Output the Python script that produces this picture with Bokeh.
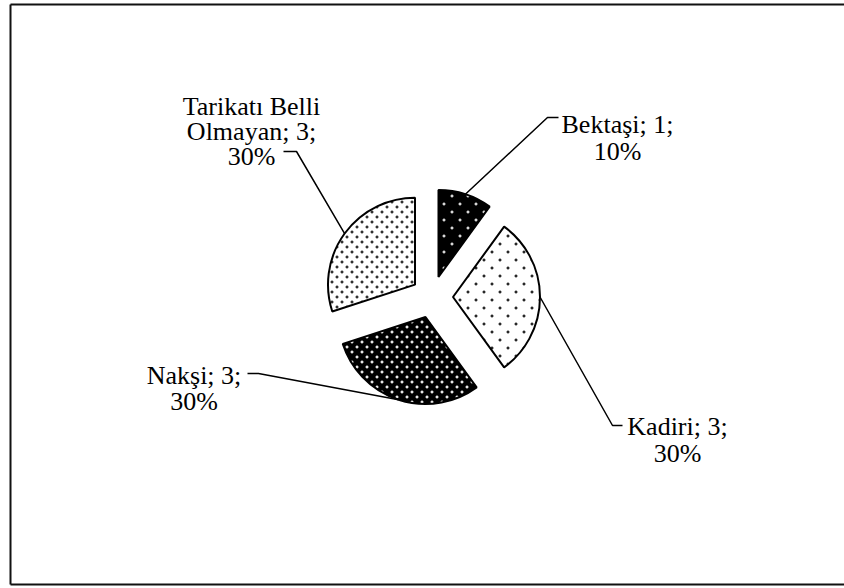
import base64
import struct
import zlib

import numpy as np
from bokeh.plotting import figure
from bokeh.models import Range1d, ColumnDataSource, ImageURLTexture
from bokeh.embed import file_html
from bokeh.resources import INLINE
from bokeh.core.properties import value

# ---- data ----
categories = ["Bektaşi", "Kadiri", "Nakşi", "Tarikatı Belli Olmayan"]
counts = [1, 3, 3, 3]
# how the name part of each label is wrapped
name_wraps = [["Bektaşi"], ["Kadiri"], ["Nakşi"], ["Tarikatı Belli", "Olmayan"]]

# ---- styles ----
fill_colors = ["black", "white", "black", "white"]
patterns = ["sparse_light", "sparse_dark", "dense_light", "dense_dark"]

W, H = 844, 588


def py(y):
    return H - y


def dot_tile(T, dots, rgb):
    """small transparent PNG tile with soft dots, returned as data URI"""
    alpha = [[0.0] * T for _ in range(T)]
    kern = {(0, 0): 1.0, (1, 0): 1.0, (0, 1): 1.0, (1, 1): 1.0,
            (-1, 0): 0.35, (-1, 1): 0.35, (2, 0): 0.35, (2, 1): 0.35,
            (0, -1): 0.35, (1, -1): 0.35, (0, 2): 0.35, (1, 2): 0.35}
    for (dx, dy) in dots:
        for (kx, ky), a in kern.items():
            x, y = (dx + kx) % T, (dy + ky) % T
            alpha[y][x] = max(alpha[y][x], a)
    raw = b""
    for row in alpha:
        raw += b"\x00" + b"".join(bytes([rgb[0], rgb[1], rgb[2], int(a * 255)]) for a in row)

    def chunk(tag, data):
        c = struct.pack(">I", len(data)) + tag + data
        return c + struct.pack(">I", zlib.crc32(tag + data) & 0xFFFFFFFF)

    png = b"\x89PNG\r\n\x1a\n"
    png += chunk(b"IHDR", struct.pack(">IIBBBBB", T, T, 8, 6, 0, 0, 0))
    png += chunk(b"IDAT", zlib.compress(raw, 9))
    png += chunk(b"IEND", b"")
    return "data:image/png;base64," + base64.b64encode(png).decode()


textures = {
    "sparse_light": ImageURLTexture(url=dot_tile(16, [(3, 3), (11, 11)], (215, 215, 215))),
    "sparse_dark": ImageURLTexture(url=dot_tile(16, [(3, 3), (11, 11)], (40, 40, 40))),
    "dense_light": ImageURLTexture(url=dot_tile(10, [(1, 1), (6, 6)], (230, 230, 230))),
    "dense_dark": ImageURLTexture(url=dot_tile(10, [(1, 1), (6, 6)], (50, 50, 50))),
}

CX, CY = 431.5, 296.5
R = 87
EXPLODE = 21

# label layout (picture coords)
label_cx = [617, 677, 193.5, 251]
label_first_base = [124, 426, 375, 106]
LINE_SP = [27, 27, 26, 25]
elbows = [(547, 117), (612, 425), (258, 373), (296, 151)]
ends = [(558, 117), (622, 425), (247, 373), (283, 151)]

total = sum(counts)
fracs = np.array(counts) / total
cum = np.concatenate([[0], np.cumsum(fracs)])
th1 = cum[:-1] * 360.0
th2 = cum[1:] * 360.0
mid = (th1 + th2) / 2
m_rad = np.radians(90 - mid)
start = np.radians(90 - th2)
end = np.radians(90 - th1)
cx = CX + EXPLODE * np.cos(m_rad)
cy = py(CY) + EXPLODE * np.sin(m_rad)

p = figure(width=W, height=H, output_backend="svg", toolbar_location=None,
           x_range=Range1d(0, W), y_range=Range1d(0, H),
           x_axis_type=None, y_axis_type=None, min_border=0,
           outline_line_color=None, background_fill_color="white",
           border_fill_color="white")
p.grid.visible = False

# chart-area border (left, top, bottom)
p.line(x=[10, W], y=[py(4), py(4)], line_color="#111111", line_width=2)
p.line(x=[10, 10], y=[py(4), py(584)], line_color="#111111", line_width=2)
p.line(x=[10, W], y=[py(584), py(584)], line_color="#111111", line_width=2)

src = ColumnDataSource(dict(x=cx, y=cy, start=start, end=end, fill=fill_colors, pat=patterns))
p.wedge(x="x", y="y", radius=R, start_angle="start", end_angle="end", source=src,
        fill_color="fill", hatch_pattern="pat", hatch_extra=textures,
        line_color="black", line_width=2)

# leader lines
xs, ys = [], []
for i in range(len(counts)):
    ax = cx[i] + R * np.cos(m_rad[i])
    ay = cy[i] + R * np.sin(m_rad[i])
    xs.append([ax, elbows[i][0], ends[i][0]])
    ys.append([ay, py(elbows[i][1]), py(ends[i][1])])
p.multi_line(xs, ys, line_color="black", line_width=1.5)

# labels
tx, ty, tt = [], [], []
for i, c in enumerate(counts):
    pct = round(100 * c / total)
    lines = list(name_wraps[i])
    lines[-1] = f"{lines[-1]}; {c};"
    lines.append(f"{pct}%")
    for j, ln in enumerate(lines):
        tx.append(label_cx[i])
        ty.append(py(label_first_base[i] + j * LINE_SP[i]))
        tt.append(ln)
p.text(x=tx, y=ty, text=tt, text_align="center", text_baseline="alphabetic",
       text_font=value("Liberation Serif"), text_font_size="26px", text_color="black")

open("out.html", "w").write(file_html(p, INLINE))
